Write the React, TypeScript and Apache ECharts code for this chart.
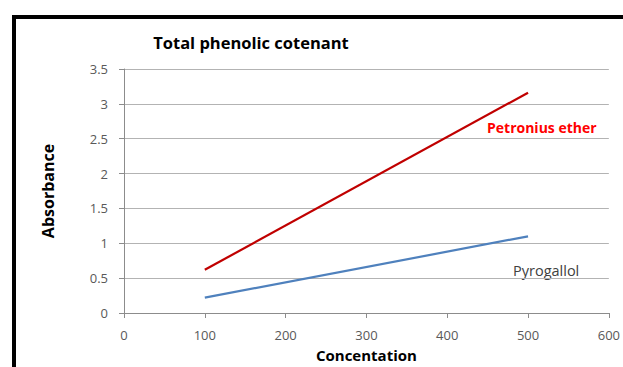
import React, { useEffect, useRef } from "react";
import * as echarts from "echarts";

const concentration = [100, 500];
const petroniusEther = [0.62, 3.16];
const pyrogallol = [0.22, 1.1];
const xTicks = [0, 100, 200, 300, 400, 500, 600];
const yTicks = [0, 0.5, 1, 1.5, 2, 2.5, 3, 3.5];

const FONT = "'Open Sans', 'Noto Sans', sans-serif";

export default function App() {
  const ref = useRef<HTMLDivElement>(null);
  useEffect(() => {
    if (!ref.current) return;
    const chart = echarts.init(ref.current, null, { renderer: "svg" });
    chart.setOption({
      animation: false,
      backgroundColor: "#ffffff",
      grid: { left: 124, top: 69, right: 14, bottom: 52 },
      xAxis: {
        type: "value",
        min: xTicks[0],
        max: xTicks[xTicks.length - 1],
        interval: 100,
        name: "Concentation",
        nameLocation: "middle",
        nameGap: 34,
        nameTextStyle: { fontFamily: FONT, fontSize: 15, fontWeight: "bold", color: "#000" },
        axisLine: { lineStyle: { color: "#8c8c8c", width: 1 } },
        axisTick: { show: true, length: 5, lineStyle: { color: "#8c8c8c" } },
        axisLabel: { fontFamily: FONT, fontSize: 13, color: "#595959", margin: 15 },
        splitLine: { show: false },
      },
      yAxis: {
        type: "value",
        min: yTicks[0],
        max: yTicks[yTicks.length - 1],
        interval: 0.5,
        name: "Absorbance",
        nameLocation: "middle",
        nameGap: 68,
        nameTextStyle: { fontFamily: FONT, fontSize: 16, fontWeight: "bold", color: "#000" },
        axisLine: { show: true, lineStyle: { color: "#8c8c8c", width: 1 } },
        axisTick: { show: true, length: 5, lineStyle: { color: "#8c8c8c" } },
        axisLabel: { fontFamily: FONT, fontSize: 13, color: "#595959", margin: 16 },
        splitLine: { show: true, lineStyle: { color: "#b3b3b3", width: 1 } },
      },
      series: [
        {
          name: "Petronius ether",
          type: "line",
          data: concentration.map((x, i) => [x, petroniusEther[i]]),
          showSymbol: false,
          lineStyle: { color: "#c00000", width: 2.2 },
          itemStyle: { color: "#c00000" },
        },
        {
          name: "Pyrogallol",
          type: "line",
          data: concentration.map((x, i) => [x, pyrogallol[i]]),
          showSymbol: false,
          lineStyle: { color: "#4f81bd", width: 2.2 },
          itemStyle: { color: "#4f81bd" },
        },
      ],
      graphic: [
        {
          type: "rect",
          shape: { x: 14, y: 17, width: 700, height: 500 },
          style: { fill: "none", stroke: "#000", lineWidth: 4 },
          silent: true,
        },
        {
          type: "text",
          x: 251,
          y: 42,
          style: {
            text: "Total phenolic cotenant",
            fontFamily: FONT,
            fontSize: 16.5,
            fontWeight: "bold",
            fill: "#000",
            align: "center",
            verticalAlign: "middle",
          },
        },
        {
          type: "text",
          x: 487,
          y: 127,
          style: {
            text: "Petronius ether",
            fontFamily: FONT,
            fontSize: 14,
            fontWeight: "bold",
            fill: "#ff0000",
            verticalAlign: "middle",
          },
        },
        {
          type: "text",
          x: 513,
          y: 270,
          style: {
            text: "Pyrogallol",
            fontFamily: FONT,
            fontSize: 14.5,
            fill: "#404040",
            verticalAlign: "middle",
          },
        },
      ],
    });
    return () => chart.dispose();
  }, []);
  return (
    <div
      ref={ref}
      style={{ position: "fixed", left: 0, top: 0, width: 623, height: 367 }}
    />
  );
}
